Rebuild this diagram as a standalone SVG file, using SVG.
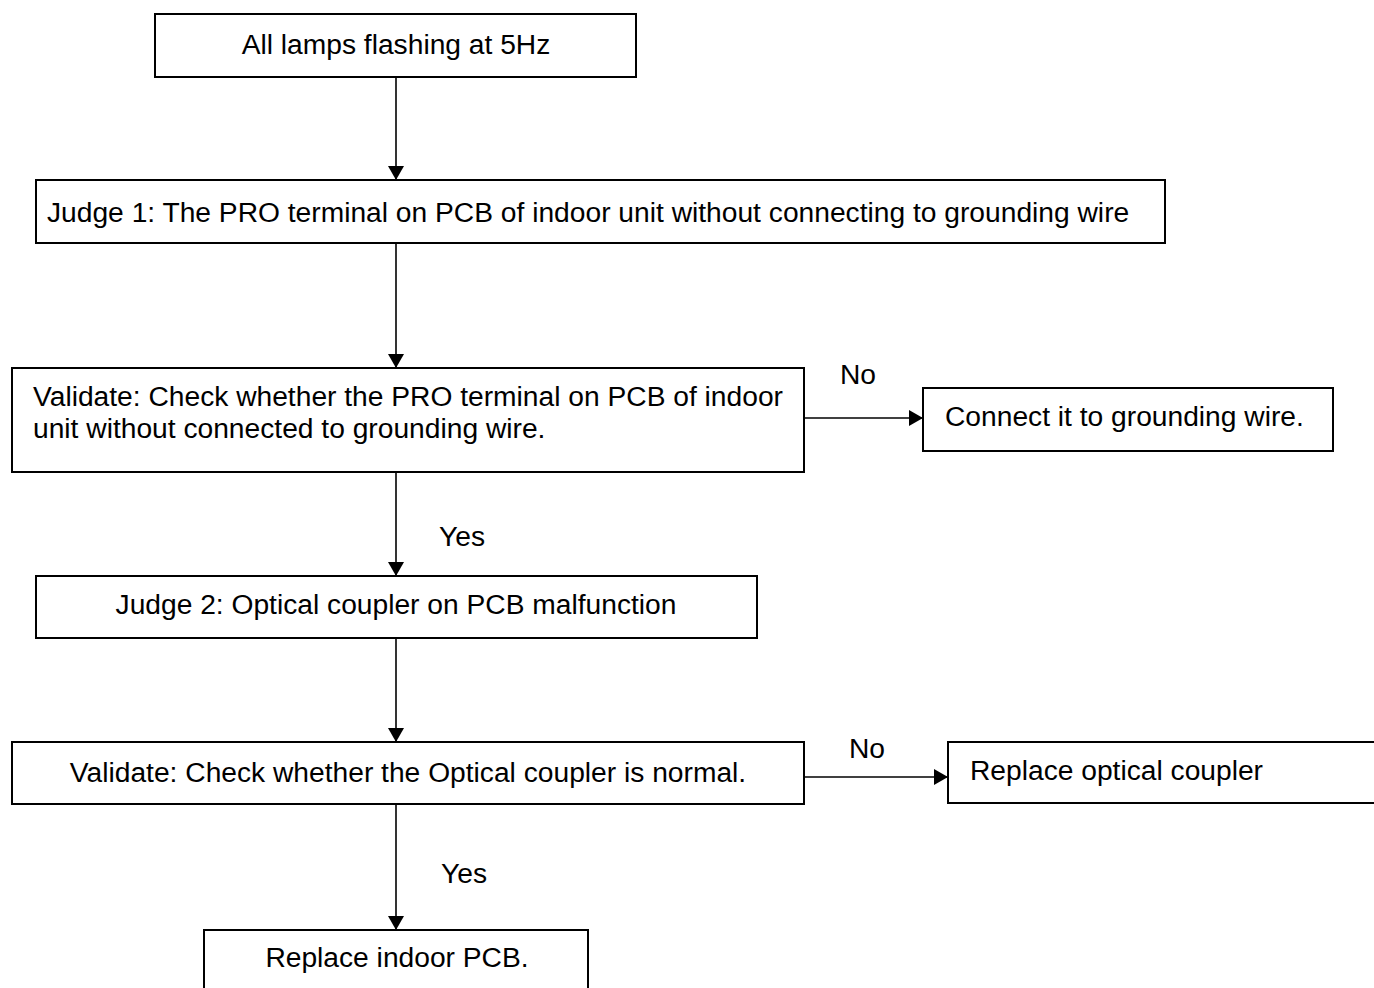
<svg xmlns="http://www.w3.org/2000/svg" width="1374" height="988" viewBox="0 0 1374 988">
<style>
.box{fill:#fff;stroke:#000;stroke-width:2}
.lbl{font-family:"Liberation Sans",Arial,sans-serif;font-size:28.2px;fill:#000}
.mid{text-anchor:middle}
.con{stroke:#000;stroke-width:1.6;fill:none;marker-end:url(#arr)}
</style>
<defs>
<marker id="arr" viewBox="0 0 14 16" refX="14" refY="8" markerWidth="14" markerHeight="16" markerUnits="userSpaceOnUse" orient="auto">
<path d="M0,0 L14,8 L0,16 z" fill="#000"/>
</marker>
</defs>
<rect width="1374" height="988" fill="#fff"/>
<g id="connectors">
<line class="con" x1="396" y1="77" x2="396" y2="180"/>
<line class="con" x1="396" y1="243" x2="396" y2="368"/>
<line class="con" x1="396" y1="472" x2="396" y2="576"/>
<line class="con" x1="396" y1="638" x2="396" y2="742"/>
<line class="con" x1="396" y1="804" x2="396" y2="930"/>
<line class="con" x1="804" y1="418" x2="923" y2="418"/>
<line class="con" x1="804" y1="777" x2="948" y2="777"/>
<text class="lbl" x="840" y="384">No</text>
<text class="lbl" x="439" y="546">Yes</text>
<text class="lbl" x="849" y="758">No</text>
<text class="lbl" x="441" y="883">Yes</text>
</g>
<g id="start">
<rect class="box" x="155" y="14" width="481" height="63"/>
<text class="lbl mid" x="396" y="54">All lamps flashing at 5Hz</text>
</g>
<g id="judge1">
<rect class="box" x="36" y="180" width="1129" height="63"/>
<text class="lbl" x="47" y="222">Judge 1: The PRO terminal on PCB of indoor unit without connecting to grounding wire</text>
</g>
<g id="validate1">
<rect class="box" x="12" y="368" width="792" height="104"/>
<text class="lbl" x="33" y="406">Validate: Check whether the PRO terminal on PCB of indoor</text>
<text class="lbl" x="33" y="438">unit without connected to grounding wire.</text>
</g>
<g id="connect">
<rect class="box" x="923" y="388" width="410" height="63"/>
<text class="lbl" x="945" y="426">Connect it to grounding wire.</text>
</g>
<g id="judge2">
<rect class="box" x="36" y="576" width="721" height="62"/>
<text class="lbl mid" x="396" y="614">Judge 2: Optical coupler on PCB malfunction</text>
</g>
<g id="validate2">
<rect class="box" x="12" y="742" width="792" height="62"/>
<text class="lbl mid" x="408" y="782">Validate: Check whether the Optical coupler is normal.</text>
</g>
<g id="replaceCoupler">
<rect class="box" x="948" y="742" width="440" height="61"/>
<text class="lbl" x="970" y="780">Replace optical coupler</text>
</g>
<g id="replacePCB">
<rect class="box" x="204" y="930" width="384" height="70"/>
<text class="lbl mid" x="397" y="967">Replace indoor PCB.</text>
</g>
</svg>
